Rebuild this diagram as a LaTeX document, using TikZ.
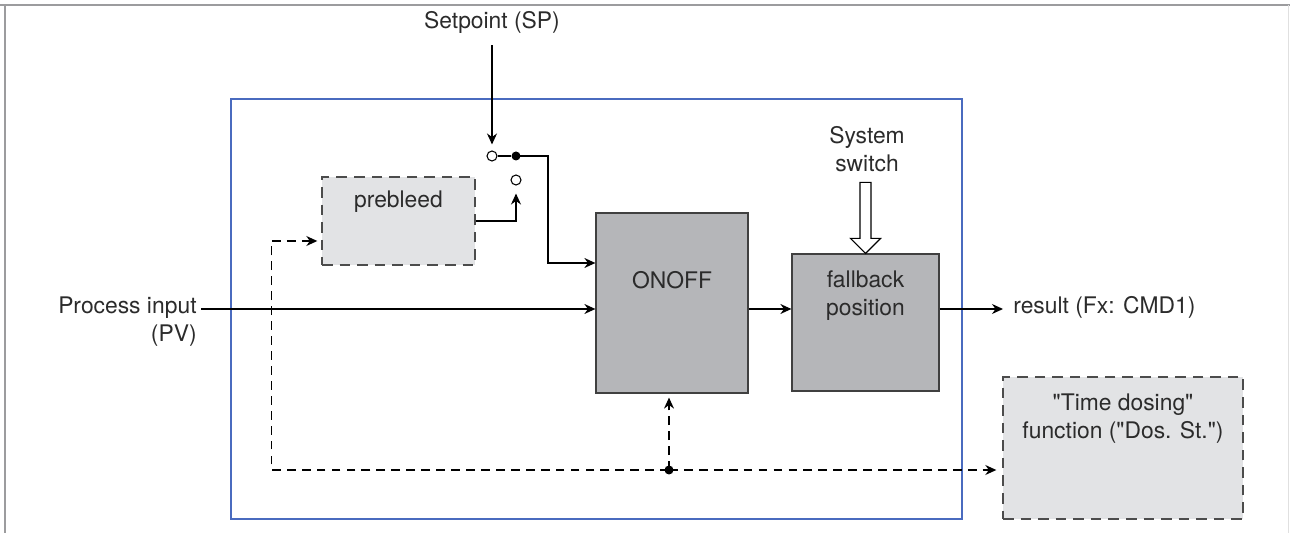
\documentclass[tikz,border=0pt]{standalone}
\usepackage{fontspec}
\setmainfont{TeX Gyre Heros}
\usetikzlibrary{
    arrows.meta,
    positioning
}
\definecolor{boxgray}{HTML}{B5B6B9}
\definecolor{lightbox}{HTML}{E2E3E5}
\definecolor{framegray}{HTML}{9C9C9E}
\definecolor{frameblue}{HTML}{4A6BBF}
\definecolor{textgray}{HTML}{2B2B2B}

\begin{document}
\begin{tikzpicture}[
        >={Stealth[length=0.22cm,width=0.2cm]},
        txt/.style={
            font=\fontsize{13}{15.9}\selectfont,
            text=textgray,
            inner sep=0.08cm
        },
        block/.style={
            draw=black!75,
            line width=0.7pt,
            fill=boxgray,
            inner sep=0
        },
        optblock/.style={
            draw=black!70,
            line width=0.8pt,
            dash pattern=on 6pt off 4pt,
            fill=lightbox,
            inner sep=0
        },
        boxtext/.style 2 args={
            label={[txt,anchor=center,align=center,yshift=-#1]north:#2}
        },
        wire/.style={line width=0.75pt},
        dwire/.style={wire, dash pattern=on 5pt off 3.5pt},
        opendot/.style={circle, draw, fill=white, line width=0.6pt, inner sep=0, minimum size=0.2cm},
        fulldot/.style={circle, fill, inner sep=0, minimum size=0.18cm}
    ]
        \useasboundingbox (0,0) rectangle (25.8,-10.66);
        % page frame
        \draw[framegray, line width=0.05cm] (0,-0.1) -- (25.8,-0.1);
        \draw[framegray, line width=0.05cm] (0.1,-0.1) -- (0.1,-10.66);
        \draw[black!12, line width=0.03cm] (25.77,-0.1) -- (25.77,-10.66);
        % controller frame
        \draw[frameblue, line width=0.6pt] (4.62,-1.98) rectangle (19.24,-10.38);

        \node[txt] (sp) at (9.84,-0.44) {Setpoint (SP)};
        \node[opendot] (c1) at (9.84,-3.12) {};
        \node[fulldot] (c2) at (10.32,-3.12) {};
        \node[opendot] (c3) at (10.32,-3.6) {};

        \node[optblock, minimum width=3.06cm, minimum height=1.76cm,
            boxtext={0.5cm}{prebleed}] (pb) at (7.97,-4.42) {};
        \node[block, minimum width=3.04cm, minimum height=3.6cm,
            boxtext={1.36cm}{ONOFF}] (onoff) at (13.44,-6.06) {};
        \node[block, minimum width=2.94cm, minimum height=2.74cm,
            boxtext={0.84cm}{fallback\\position}] (fb) at (17.31,-6.45) {};
        \node[optblock, minimum width=4.8cm, minimum height=2.84cm,
            boxtext={0.84cm}{\textquotedbl Time dosing\textquotedbl\\function (\textquotedbl Dos. St.\textquotedbl)}]
            (td) at (22.46,-8.96) {};

        \node[txt, align=center] (sw) at (17.34,-2.98) {System\\switch};
        \node[txt, anchor=mid east] (pv) at (4.02,-6.18) {Process input};
        \node[txt, anchor=mid east] (pvb) at (4.02,-6.74) {(PV)};
        \node[txt, anchor=mid west] (res) at (20.18,-6.18) {result (Fx: CMD1)};
        \coordinate (jn) at (13.38,-9.4);

        % setpoint path
        \draw[wire,->] ([yshift=-0.16cm]sp.south) -- ([yshift=0.12cm]c1.north);
        \draw[wire] (c1) -- (c2);
        \draw[wire,->] (c2.center) -- ++(0.64,0) |- ([yshift=0.8cm]onoff.west);
        \draw[wire,->] (pb.east) -| ([yshift=-0.16cm]c3.south);

        % main signal
        \draw[wire,->] (pv.mid east) -- (pv.mid east -| onoff.west);
        \draw[wire,->] (onoff.east |- pv.mid east) -- (fb.west |- pv.mid east);
        \draw[wire,->] (fb.east |- pv.mid east) -- ([xshift=-0.12cm]res.mid west);

        % system switch
        \draw[line width=0.7pt, fill=white] (fb.north) -- ++(-0.3,0.3) -- ++(0.19,0)
            -- ++(0,1.12) -- ++(0.22,0) -- ++(0,-1.12) -- ++(0.19,0) -- cycle;

        % time dosing links
        \draw[dwire,->] (jn) -| ([xshift=-1cm,yshift=-0.4cm]pb.west)
            -- ([xshift=-0.08cm,yshift=-0.4cm]pb.west);
        \draw[dwire,->,shorten >=0.08cm] (jn) -- (jn |- onoff.south);
        \draw[dwire,->,shorten >=0.12cm] (jn) -- (jn -| td.west);
        \fill (jn) circle (0.09cm);
    \end{tikzpicture}
\end{document}
